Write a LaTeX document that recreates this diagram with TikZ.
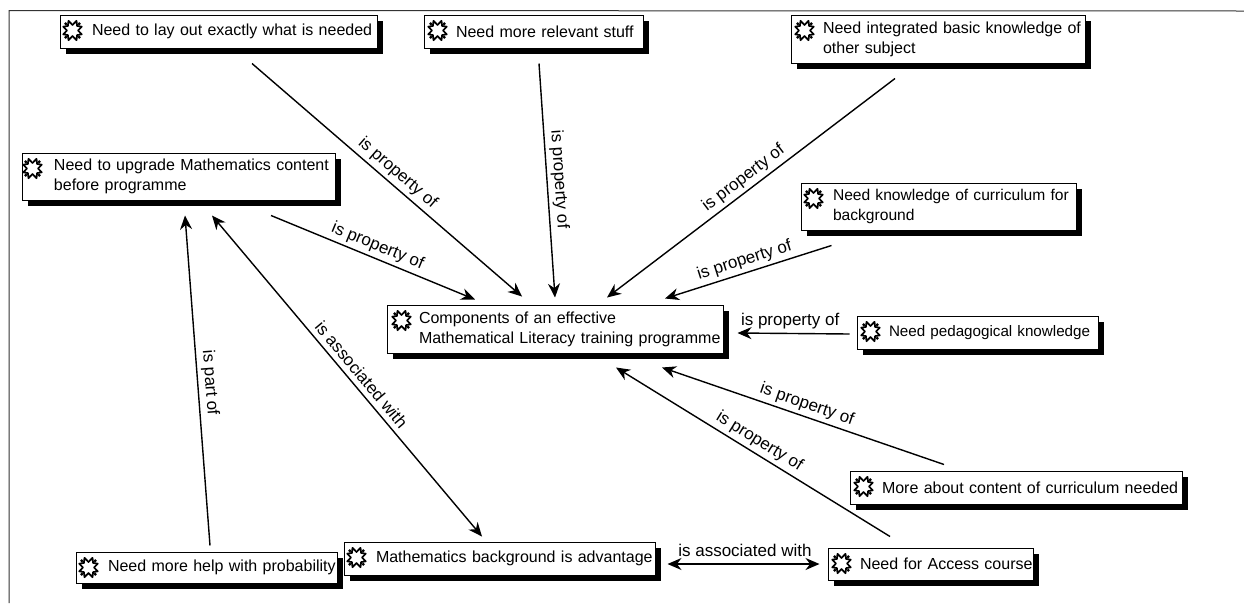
\documentclass[tikz,border=0pt]{standalone}
\usepackage{fontspec}
\setmainfont{Liberation Sans}
\usetikzlibrary{arrows.meta,shadows}

\begin{document}
\begin{tikzpicture}[%
      x=1pt,y=-1pt,
      code/.style 2 args={draw=black,line width=1pt,fill=white,inner xsep=0pt,inner ysep=0pt,
        text width=#1,minimum height=#2,align=left,font=\fontsize{16}{20}\selectfont,
        execute at begin node={\leftskip=32pt},
        drop shadow={shadow xshift=6pt,shadow yshift=-6pt,fill=black,opacity=1}},
      link/.style={draw=black,line width=1.4pt,-{Stealth[length=14pt,width=12pt]}},
      bilink/.style={draw=black,line width=1.4pt,{Stealth[length=14pt,width=12pt]}-{Stealth[length=14pt,width=12pt]}},
      rel/.style={font=\fontsize{17}{20}\selectfont,inner sep=3.5pt},
      codeicon/.pic={
        \draw[line width=1.7pt,fill=white,line join=round] (0:5.5)
          \foreach \a/\r in {22.5/10,45/6.5,67.5/10.5,90/5.5,112.5/10.5,135/6.5,157.5/10,180/5.5,202.5/10,225/6.5,247.5/10.5,270/5.5,292.5/10.5,315/6.5,337.5/10} { -- (\a:\r) } -- cycle;
        \foreach \a in {45,135,225,315} \fill (\a:9.5) circle (1.7pt);
      },
      ]
      \useasboundingbox (0,0) rectangle (1244,603);
      \fill[white] (0,0) rectangle (1244,603);
      \draw[color=black!80,line width=1pt] (9,603) -- (9,10.5) -- (1244,11);

      \node[code={317pt}{33pt}] (layout) at (218.5,31.5) {Need to lay out exactly what is needed};
      \node[code={219pt}{33pt}] (relevant) at (533.5,31.5) {Need more relevant stuff};
      \node[code={294pt}{48pt}] (integrated) at (938,39) {Need integrated basic knowledge of other subject};
      \node[code={313pt}{47pt}] (upgrade) at (178.5,176.5) {Need to upgrade Mathematics content before programme};
      \node[code={275pt}{47pt},font=\fontsize{15.6}{20}\selectfont] (curriculum) at (938.5,206.5) {Need knowledge of curriculum for background};
      \node[code={336pt}{48pt}] (components) at (555,329) {Components of an effective\\Mathematical Literacy training programme};
      \node[code={241pt}{33pt},font=\fontsize{15.2}{20}\selectfont] (pedagogical) at (977.5,332.5) {Need pedagogical knowledge};
      \node[code={332pt}{33pt}] (content) at (1016,487.5) {More about content of curriculum needed};
      \node[code={205pt}{32pt}] (access) at (930.5,564) {Need for Access course};
      \node[code={261pt}{31pt}] (probability) at (206.5,567.5) {Need more help with probability};
      \node[code={311pt}{33pt}] (background) at (499.5,558.5) {Mathematics background is advantage};

      \foreach \n/\dx in {layout/13,relevant/14,integrated/14,upgrade/11,curriculum/13,components/15,pedagogical/14,content/14,access/14,probability/13,background/13}
        \pic at ([shift={(\dx,16)}]\n.north west) {codeicon};

      \draw[link] ([shift={(33.5,15)}]layout.south) -- node[rel,sloped,above,pos=0.51] {is property of} ([shift={(-33,-8)}]components.north);
      \draw[link] ([shift={(5.5,15)}]relevant.south) -- node[rel,sloped,above,pos=0.5] {is property of} ([shift={(0,-7)}]components.north);
      \draw[link] ([shift={(-43,15)}]integrated.south) -- node[rel,sloped,above,pos=0.5] {is property of} ([shift={(52,-7)}]components.north);
      \draw[link] ([shift={(92.5,15)}]upgrade.south) -- node[rel,sloped,above,pos=0.5] {is property of} ([shift={(-80,-5)}]components.north);
      \draw[link] ([shift={(-107,15)}]curriculum.south) -- node[rel,sloped,above,pos=0.5] {is property of} ([shift={(110,-6)}]components.north);
      \draw[link] ([shift={(-7,1.5)}]pedagogical.west) -- node[rel,above,pos=0.53] {is property of} ([shift={(14,4)}]components.east);
      \draw[link] ([shift={(-72,-6)}]content.north) -- node[rel,sloped,above,pos=0.5] {is property of} ([shift={(107,14)}]components.south);
      \draw[link] ([shift={(-40.5,-11)}]access.north) -- node[rel,sloped,above,pos=0.5] {is property of} ([shift={(61,14)}]components.south);
      \draw[link] ([shift={(3.5,-6)}]probability.north) -- node[rel,sloped,above,pos=0.49] {is part of} ([shift={(6.5,15)}]upgrade.south);
      \draw[bilink] ([shift={(33.5,15)}]upgrade.south) -- node[rel,sloped,above,pos=0.52,inner sep=5pt] {is associated with} ([shift={(-17.5,-5)}]background.north);
      \draw[bilink,shorten <=12pt,shorten >=8pt] (background.east |- access) -- node[rel,above,pos=0.52,yshift=3pt] {is associated with} (access.west);
\end{tikzpicture}
\end{document}
